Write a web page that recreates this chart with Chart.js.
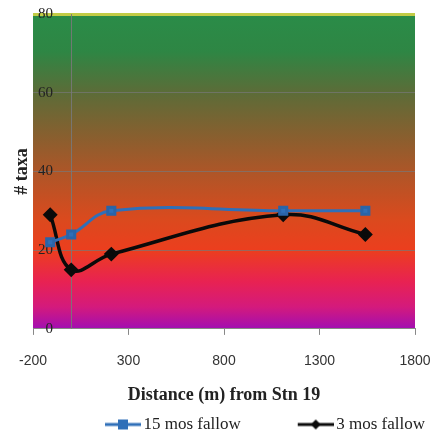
<!DOCTYPE html>
<html>
<head>
<meta charset="utf-8">
<script src="https://cdn.jsdelivr.net/npm/chart.js@4/dist/chart.umd.min.js"></script>
<style>
  html, body { margin: 0; padding: 0; background: #fff; }
  #wrap { width: 441px; height: 436px; }
</style>
</head>
<body>
<div id="wrap"><canvas id="myChart" width="441" height="436"></canvas></div>
<script>
// data
const distances = [-110, 0, 210, 1110, 1540];
const fallow15 = [22, 24, 30, 30, 30];
const fallow3 = [29, 15, 19, 29, 24];
const seriesNames = ["15 mos fallow", "3 mos fallow"];
const xTitle = "Distance (m) from Stn 19";
const yTitle = "# taxa";

const BLUE = "#2f6fb8";
const BLACK = "#0a0a0a";

// line+marker picture for the legend (blank space on the left = gap between items)
function legendIcon(color, shape) {
    const c = document.createElement("canvas");
    c.width = 96; c.height = 12;
    const g = c.getContext("2d");
    g.strokeStyle = color;
    g.lineWidth = 3;
    g.beginPath(); g.moveTo(60, 6); g.lineTo(96, 6); g.stroke();
    g.fillStyle = color;
    if (shape === "rect") {
        g.fillRect(73, 1, 10, 10);
    } else {
        g.beginPath();
        g.moveTo(78, 1); g.lineTo(83, 6); g.lineTo(78, 11); g.lineTo(73, 6);
        g.closePath(); g.fill();
    }
    return c;
}

// gradient behind the plot + y axis line at x = 0
const plotBackground = {
    id: "plotBackground",
    beforeDraw(chart) {
        const { ctx, chartArea: a } = chart;
        const grad = ctx.createLinearGradient(0, a.top, 0, a.bottom);
        grad.addColorStop(0, "#2a8c48");
        grad.addColorStop(0.12, "#2e8644");
        grad.addColorStop(0.25, "#5c6c38");
        grad.addColorStop(0.4, "#8c5e2e");
        grad.addColorStop(0.5, "#ad5628");
        grad.addColorStop(0.65, "#da4a1e");
        grad.addColorStop(0.75, "#ec3e1e");
        grad.addColorStop(0.85, "#e82252");
        grad.addColorStop(0.93, "#d41a7c");
        grad.addColorStop(1, "#a20eb2");
        ctx.save();
        ctx.fillStyle = grad;
        ctx.fillRect(a.left, a.top, a.right - a.left, a.bottom - a.top);
        ctx.restore();
    },
    beforeDatasetsDraw(chart) {
        const { ctx, chartArea: a, scales } = chart;
        const x0 = Math.round(scales.x.getPixelForValue(0)) + 0.5;
        ctx.save();
        ctx.strokeStyle = "rgba(120,120,120,0.9)";
        ctx.lineWidth = 1;
        ctx.beginPath(); ctx.moveTo(x0, a.top); ctx.lineTo(x0, a.bottom); ctx.stroke();
        ctx.restore();
    }
};

const ctx = document.getElementById("myChart");
let myChart = new Chart(ctx, {
    type: "line",
    data: {
        datasets: [{
            label: seriesNames[0],
            data: distances.map((d, i) => ({ x: d, y: fallow15[i] })),
            borderColor: BLUE,
            backgroundColor: BLUE,
            borderWidth: 3,
            pointStyle: "rect",
            pointRadius: 5,
            pointBorderColor: "#2a64a8",
            tension: 0.4
        }, {
            label: seriesNames[1],
            data: distances.map((d, i) => ({ x: d, y: fallow3[i] })),
            borderColor: BLACK,
            backgroundColor: BLACK,
            borderWidth: 3.5,
            pointStyle: "rectRot",
            pointRadius: 5,
            tension: 0.4
        }]
    },
    options: {
        responsive: false,
        animation: false,
        layout: { padding: { left: 0, right: 13, top: 11, bottom: -7 } },
        plugins: {
            tooltip: { enabled: false },
            legend: {
                position: "bottom",
                align: "end",
                labels: {
                    usePointStyle: true,
                    pointStyleWidth: 84,
                    padding: 3,
                    color: "#222",
                    font: { family: "'Liberation Serif', serif", size: 17 },
                    generateLabels(chart) {
                        const items = Chart.defaults.plugins.legend.labels.generateLabels(chart);
                        items[0].pointStyle = legendIcon(BLUE, "rect");
                        items[1].pointStyle = legendIcon(BLACK, "diamond");
                        return items;
                    }
                }
            }
        },
        scales: {
            x: {
                type: "linear",
                min: -200,
                max: 1800,
                afterFit: (s) => { s.paddingRight = 12; },
                ticks: {
                    stepSize: 500,
                    padding: 19,
                    color: "#333",
                    font: { family: "'Liberation Sans', sans-serif", size: 14, lineHeight: 1 },
                    callback: (v) => String(v)
                },
                grid: { drawOnChartArea: false, tickLength: 6, color: "#888" },
                border: { display: true, color: "#888", width: 1 },
                title: {
                    display: true,
                    text: xTitle,
                    color: "#222",
                    padding: { top: 0, bottom: 9 },
                    font: { family: "'Liberation Serif', serif", size: 18, weight: "bold", lineHeight: 0.95 }
                }
            },
            y: {
                min: 0,
                max: 80,
                afterFit: (s) => { s.width = 33; },
                ticks: {
                    stepSize: 20,
                    mirror: true,
                    crossAlign: "far",
                    padding: 5,
                    color: "#222",
                    font: { family: "'Liberation Serif', serif", size: 15 }
                },
                grid: {
                    drawTicks: false,
                    color: (c) => c.tick.value === 80 ? "#c2cc46" : (c.tick.value === 0 ? "rgba(0,0,0,0)" : "rgba(120,120,120,0.7)"),
                    lineWidth: (c) => c.tick.value === 80 ? 3 : 1
                },
                border: { display: false },
                title: {
                    display: true,
                    text: yTitle,
                    color: "#222",
                    padding: { top: 12, bottom: 0 },
                    font: { family: "'Liberation Serif', serif", size: 18, weight: "bold" }
                }
            },
            yRight: {
                position: "right",
                min: 0,
                max: 80,
                afterFit: (s) => { s.width = 13; },
                ticks: { display: false },
                grid: { display: false },
                border: { display: false }
            }
        }
    },
    plugins: [plotBackground]
});
</script>
</body>
</html>
